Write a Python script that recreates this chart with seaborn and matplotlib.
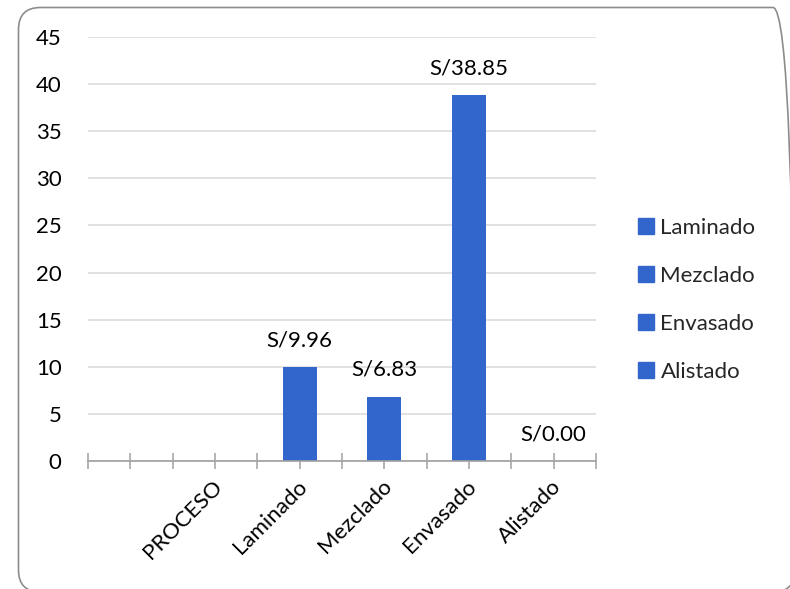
import numpy as np
import pandas as pd
import seaborn as sns
import matplotlib.pyplot as plt
from matplotlib.patches import FancyBboxPatch
from matplotlib.lines import Line2D
from matplotlib.ticker import MultipleLocator
from matplotlib.transforms import IdentityTransform, ScaledTranslation

# Category axis (first slot is empty, then the header row, then processes)
categories = ["", "PROCESO", "Laminado", "Mezclado", "Envasado", "Alistado"]
processes = ["Laminado", "Mezclado", "Envasado", "Alistado"]
costs = [9.96, 6.83, 38.85, 0.00]
cost_labels = ["S/9.96", "S/6.83", "S/38.85", "S/0.00"]
y_ticks = [0, 5, 10, 15, 20, 25, 30, 35, 40, 45]

bar_color = "#3366CC"
W, H = 790, 589

sns.set_theme(style="white")
plt.rcParams["font.family"] = ["Lato", "DejaVu Sans"]

df = pd.DataFrame({"proceso": processes, "costo": costs})

fig = plt.figure(figsize=(W / 100, H / 100), dpi=100)
ax = fig.add_axes([88 / W, 1 - 461 / H, (596 - 88) / W, (461 - 37) / H])

sns.barplot(
    data=df, x="proceso", y="costo", hue="proceso",
    order=categories, hue_order=processes,
    palette={p: bar_color for p in processes},
    saturation=1, linewidth=0,
    width=0.4, dodge=False, legend=False, ax=ax, zorder=3,
)

# value labels above each bar
for cat, val, lab in zip(processes, costs, cost_labels):
    xpos = categories.index(cat)
    ax.annotate(lab, (xpos, val), xytext=(0, 12), textcoords="offset points",
                ha="center", va="bottom", fontsize=16, color="#000000")

ax.set_xlim(-0.5, len(categories) - 0.5)
ax.set_ylim(0, 45)
ax.set_yticks(y_ticks)
ax.set_xlabel("")
ax.set_ylabel("")

# gridlines
ax.yaxis.grid(True, color="#d9d9d9", linewidth=1.1, zorder=0)
ax.set_axisbelow(True)
for s in ["left", "right", "top"]:
    ax.spines[s].set_visible(False)
ax.spines["bottom"].set_color("#a0a0a0")
ax.spines["bottom"].set_linewidth(1.2)
ax.spines["bottom"].set_zorder(4)

ax.tick_params(axis="y", length=0, pad=19, labelsize=16, labelcolor="#000000")
ax.xaxis.set_minor_locator(MultipleLocator(0.5))
ax.tick_params(axis="x", which="both", direction="inout", length=11,
               width=1.1, color="#a0a0a0", bottom=True)
ax.set_xticks(range(len(categories)))
ax.set_xticklabels(categories, rotation=45, ha="right", va="center",
                   rotation_mode="anchor", fontsize=16, color="#000000")
ax.tick_params(axis="x", which="major", pad=12)
shift = ScaledTranslation(4 / 100, 2 / 100, fig.dpi_scale_trans)
for t in ax.get_xticklabels():
    t.set_transform(t.get_transform() + shift)

# legend on the right
handles = [Line2D([0], [0], marker="s", linestyle="none", markersize=11,
                  markerfacecolor=bar_color, markeredgecolor=bar_color)
           for _ in processes]
fig.legend(handles, processes, loc="center left",
           bbox_to_anchor=(626 / W, 1 - 300 / H), frameon=False,
           fontsize=16, handletextpad=0.15, labelspacing=1.26,
           handlelength=1.0, borderaxespad=0)

# rounded chart border (pixel coordinates)
border = FancyBboxPatch((18.5, H - 592), 795 - 18.5, 592 - 7.5,
                        boxstyle="round,pad=0,rounding_size=22",
                        transform=IdentityTransform(), fill=False,
                        edgecolor="#8c8c8c", linewidth=1.2, clip_on=False)
fig.patches.append(border)

fig.savefig("out.png", dpi=100)
